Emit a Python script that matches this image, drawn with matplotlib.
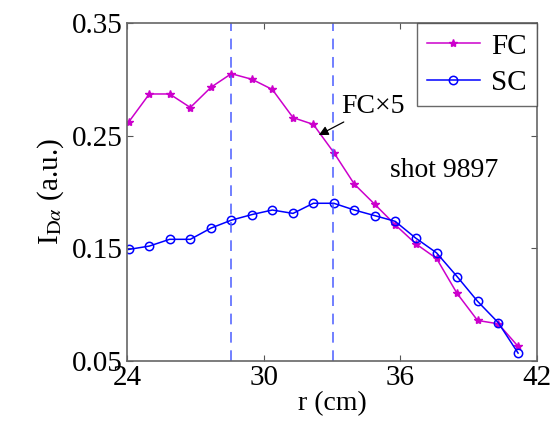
import numpy as np
import matplotlib
matplotlib.use('Agg')
import matplotlib.pyplot as plt

plt.rcParams['font.family'] = ['Liberation Serif', 'DejaVu Serif']
plt.rcParams['mathtext.fontset'] = 'stix'

# radius (cm)
r = [24.07, 24.98, 25.87, 26.78, 27.69, 28.58, 29.49, 30.38, 31.29, 32.18,
     33.08, 33.98, 34.88, 35.77, 36.68, 37.59, 38.49, 39.39, 40.30, 41.17]
# FC signal (x5)
fc = [0.262, 0.287, 0.287, 0.275, 0.293, 0.305, 0.300, 0.291, 0.266, 0.260,
      0.235, 0.207, 0.189, 0.171, 0.154, 0.141, 0.110, 0.086, 0.083, 0.063]
# SC signal
sc = [0.149, 0.152, 0.158, 0.158, 0.168, 0.175, 0.180, 0.184, 0.181, 0.190,
      0.190, 0.184, 0.179, 0.174, 0.159, 0.146, 0.125, 0.103, 0.084, 0.057]
vlines = [28.57, 33.03]

fig = plt.figure(figsize=(5.53, 4.32), dpi=100)
ax = fig.add_axes([127/553, 1 - 361/432, 410/553, 338/432])

ax.plot(r, fc, '-*', color='#cc00cc', ms=6, lw=1.1, label='FC')
ax.plot(r, sc, '-o', color='#0000ff', mfc='none', ms=6, mew=1.1, lw=1.1, label='SC')
for v in vlines:
    ax.axvline(v, color='#4a5cff', ls=(0, (7, 5)), lw=1.1)

ax.annotate('FC×5', xy=(32.42, 0.2505), xytext=(33.4, 0.2757),
            fontsize=20, va='center',
            arrowprops=dict(arrowstyle='-|>', color='k', lw=0.9,
                            shrinkA=0, shrinkB=0, mutation_scale=14),
            )
ax.text(35.55, 0.2193, 'shot 9897', fontsize=20, va='center')

ax.set_xlim(24, 42)
ax.set_ylim(0.05, 0.35)
ax.set_xticks([24, 30, 36, 42])
ax.set_yticks([0.05, 0.15, 0.25, 0.35])
ax.set_yticklabels(['0.05', '0.15', '0.25', '0.35'])
ax.tick_params(direction='in', top=True, right=True, labelsize=21,
               length=4, color='#555555', pad=3)
for s in ax.spines.values():
    s.set_color('#666666')
    s.set_linewidth(1.2)

ax.set_xlabel('r (cm)', fontsize=20, labelpad=0)
ax.set_ylabel(r'I$_{\mathrm{D}\alpha}$ (a.u.)', fontsize=21, labelpad=4)

leg = ax.legend(loc='upper right', fontsize=21, frameon=True, fancybox=False,
                borderaxespad=0, handlelength=1.8, handletextpad=0.4,
                borderpad=0.35, labelspacing=0.35)
leg.get_frame().set_edgecolor('#444444')
leg.get_frame().set_linewidth(1.0)

fig.savefig('out.png', dpi=100)
